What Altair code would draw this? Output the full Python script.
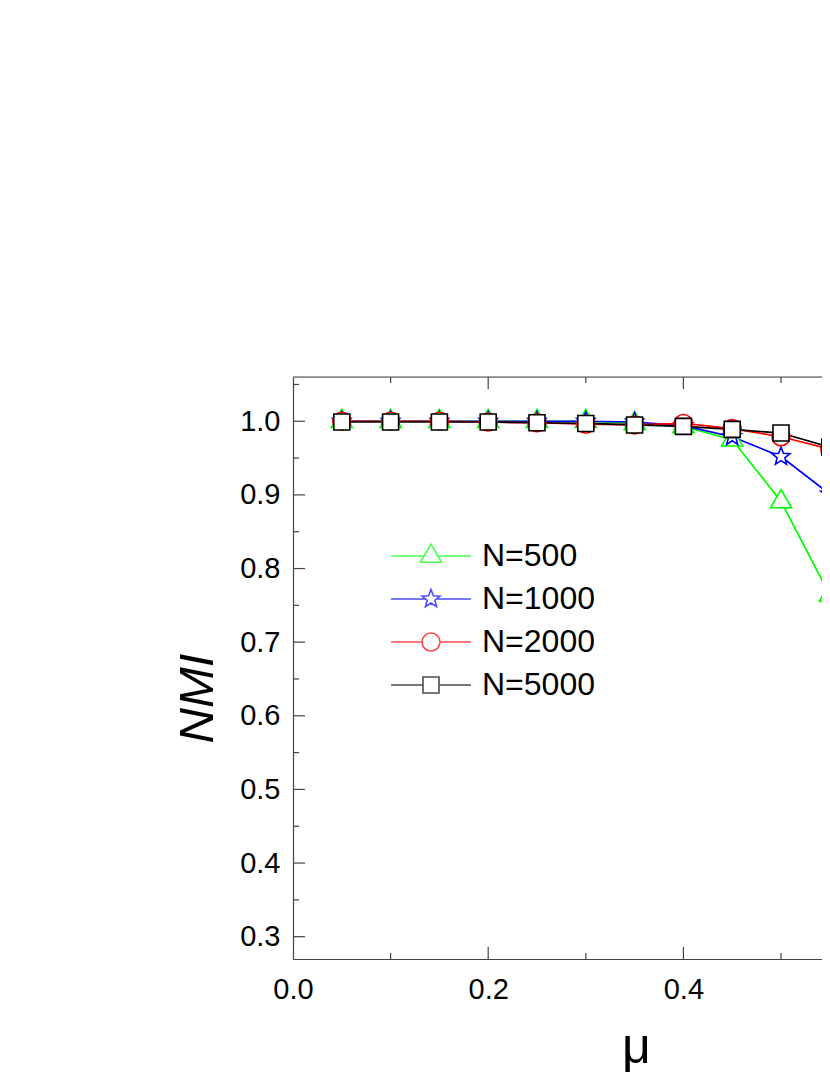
import altair as alt
import pandas as pd

# ---------------- data ----------------
mu = [0.05, 0.10, 0.15, 0.20, 0.25, 0.30, 0.35, 0.40, 0.45, 0.50, 0.55]
series_names = ["N=500", "N=1000", "N=2000", "N=5000"]
nmi_500 = [1.000, 1.000, 1.000, 1.000, 1.000, 1.000, 0.997, 0.993, 0.975, 0.891, 0.764]
nmi_1000 = [1.000, 1.000, 1.000, 1.000, 1.000, 1.000, 0.999, 0.994, 0.979, 0.952, 0.901]
nmi_2000 = [1.000, 1.000, 1.000, 0.999, 0.998, 0.996, 0.995, 0.997, 0.990, 0.979, 0.962]
nmi_5000 = [0.999, 0.999, 0.999, 0.999, 0.998, 0.997, 0.995, 0.993, 0.989, 0.984, 0.965]
colors = ["#00ff00", "#0000ff", "#ff0000", "#000000"]

x_major = [0.2, 0.4]
x_minor = [0.1, 0.3, 0.5]
y_major = [0.3, 0.4, 0.5, 0.6, 0.7, 0.8, 0.9, 1.0]
y_minor = [0.35, 0.45, 0.55, 0.65, 0.75, 0.85, 0.95, 1.05]

# marker shapes (unit box -1..1) and legend symbols (line + marker)
marker_paths = [
    "M0,-1.33L1.17,0.7L-1.17,0.7Z",
    "M0,-1.05L0.2645,-0.364L0.9986,-0.3245L0.428,0.139L0.6172,0.8495L0,0.45L-0.6172,0.8495L-0.428,0.139L-0.9986,-0.3245L-0.2645,-0.364Z",
    "M-1,0A1,1,0,1,1,1,0A1,1,0,1,1,-1,0Z",
    "M-0.889,-0.889H0.889V0.889H-0.889Z",
]
legend_paths = [
    "M-4.44,0H-0.77M0.77,0H4.44" + marker_paths[0],
    "M-4.44,0H-0.6M0.6,0H4.44" + marker_paths[1],
    "M-4.44,0H-1M1,0H4.44" + marker_paths[2],
    "M-4.44,0H-0.889M0.889,0H4.44" + marker_paths[3],
]

rows = []
for name, vals in zip(series_names, [nmi_500, nmi_1000, nmi_2000, nmi_5000]):
    for m, v in zip(mu, vals):
        rows.append({"mu": m, "nmi": v, "series": name})
df = pd.DataFrame(rows)

W, H = 529, 582
FONT = "Liberation Sans, Arial, sans-serif"
AX = "#444444"

xscale = alt.Scale(domain=[0, W / 976.0], nice=False, zero=False)
yscale = alt.Scale(domain=[0.2697, 1.0601], nice=False, zero=False)
cscale = alt.Scale(domain=series_names, range=colors)

base = alt.Chart(df)

lines = base.mark_line(strokeWidth=1.7, clip=True).encode(
    x=alt.X("mu:Q", scale=xscale,
            axis=alt.Axis(values=[0.0, 0.2, 0.4], format=".1f", ticks=False, tickSize=0,
                          grid=False, domainColor=AX, domainWidth=1.2,
                          labelFontSize=29, labelFont=FONT, labelColor="black",
                          labelPadding=16, labelFlush=False,
                          title="μ", titleFont=FONT, titleFontSize=50,
                          titleFontWeight="normal", titleColor="black",
                          titleX=343, titleY=103, titleAlign="center",
                          titleBaseline="alphabetic")),
    y=alt.Y("nmi:Q", scale=yscale,
            axis=alt.Axis(values=y_major, format=".1f", ticks=False, tickSize=0,
                          grid=False, domainColor=AX, domainWidth=1.2,
                          labelFontSize=29, labelFont=FONT, labelColor="black",
                          labelPadding=13,
                          title="NMI", titleFont=FONT, titleFontSize=49,
                          titleFontStyle="italic", titleFontWeight="normal",
                          titleColor="black", titleAngle=270,
                          titleX=-81, titleY=321, titleAlign="center",
                          titleBaseline="alphabetic")),
    color=alt.Color("series:N", scale=cscale, legend=None),
    detail="series:N",
    order="mu:Q",
)

points = base.mark_point(filled=False, strokeWidth=1.6, size=324, opacity=1, clip=True).encode(
    x=alt.X("mu:Q", scale=xscale),
    y=alt.Y("nmi:Q", scale=yscale),
    color=alt.Color("series:N", scale=cscale, legend=None),
    shape=alt.Shape("series:N", scale=alt.Scale(domain=series_names, range=marker_paths), legend=None),
    fill=alt.value("white"),
)

leg = alt.Legend(orient="none", legendX=122, legendY=163, title=None,
                 labelFont=FONT, labelFontSize=32, labelColor="black",
                 labelOffset=35, rowPadding=11, padding=0, labelLimit=400,
                 symbolSize=324, symbolStrokeWidth=1.6, symbolFillColor="transparent")

legend_layer = base.mark_point(filled=False, strokeWidth=1.6, size=324, clip=True).encode(
    x=alt.value(-200),
    y=alt.value(-200),
    color=alt.Color("series:N", scale=cscale, legend=leg),
    shape=alt.Shape("series:N", scale=alt.Scale(domain=series_names, range=legend_paths), legend=leg),
)

def hticks(vals, length):
    return alt.Chart(pd.DataFrame({"v": vals})).mark_rule(color=AX, strokeWidth=1.2).encode(
        y=alt.Y("v:Q", scale=yscale), x=alt.value(0), x2=alt.value(length))

def vticks_bottom(vals, length):
    return alt.Chart(pd.DataFrame({"v": vals})).mark_rule(color=AX, strokeWidth=1.2).encode(
        x=alt.X("v:Q", scale=xscale), y=alt.value(H), y2=alt.value(H - length))

def vticks_top(vals, length):
    return alt.Chart(pd.DataFrame({"v": vals})).mark_rule(color=AX, strokeWidth=1.2).encode(
        x=alt.X("v:Q", scale=xscale), y=alt.value(0), y2=alt.value(length))

top_border = alt.Chart(pd.DataFrame({"v": [0]})).mark_rule(color=AX, strokeWidth=1.2).encode(
    x=alt.value(0), x2=alt.value(W), y=alt.value(0))

chart = alt.layer(
    hticks(y_major, 12), hticks(y_minor, 6),
    vticks_bottom(x_major, 12), vticks_bottom(x_minor, 6),
    vticks_top(x_major, 12), vticks_top(x_minor, 6),
    top_border,
    lines, points, legend_layer,
).resolve_scale(color="independent", shape="independent").properties(
    width=W, height=H,
    autosize=alt.AutoSizeParams(type="none"),
    padding={"left": 285, "top": 369, "right": 0, "bottom": 114},
).configure_view(strokeWidth=0).configure(background="white")

chart.save("out.html", embed_options={"renderer": "svg", "actions": False})
